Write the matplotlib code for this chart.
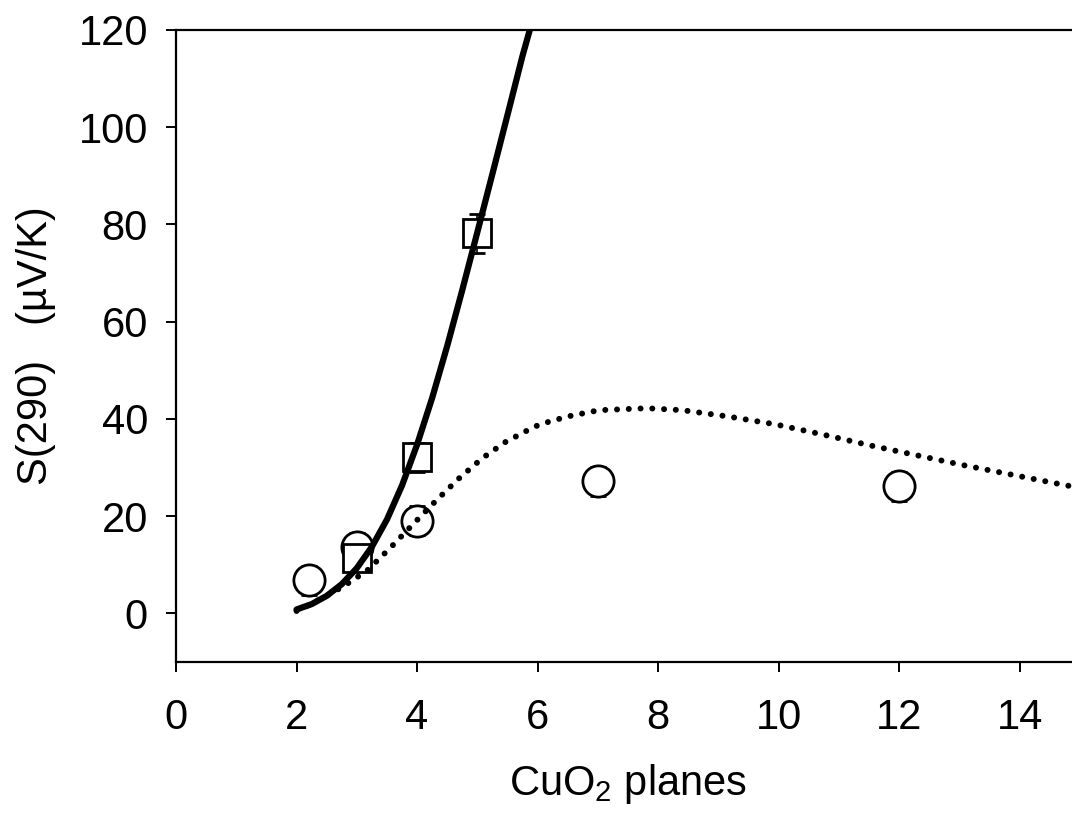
import matplotlib
matplotlib.use("Agg")
import matplotlib.pyplot as plt

plt.rcParams['font.family'] = ['Liberation Sans', 'DejaVu Sans']
plt.rcParams['mathtext.default'] = 'regular'

# Data
circle_x = [2.2, 3.0, 4.0, 7.0, 12.0]
circle_y = [6.8, 13.6, 19.1, 27.2, 26.1]
circle_err = [3.0, 3.0, 3.0, 3.0, 3.0]

square_x = [3.0, 4.0, 5.0]
square_y = [11.3, 32.1, 78.2]
square_err = [2.0, 3.0, 4.0]

solid_x = [2.0, 2.25, 2.5, 2.75, 3.0, 3.25, 3.5, 3.75, 4.0, 4.25, 4.5, 4.75,
           5.0, 5.25, 5.5, 5.75, 5.87]
solid_y = [0.8, 1.9, 3.6, 6.0, 9.3, 13.7, 19.3, 26.3, 34.7, 44.3, 55.0, 66.5,
           78.4, 90.4, 102.5, 114.7, 120.0]

dotted_x = [2.0, 2.39, 2.77, 3.17, 3.55, 3.93, 4.30, 4.68, 5.08, 5.46, 5.84, 6.04, 6.5,
            7.02, 7.82, 8.4, 9.16, 9.94, 10.73, 11.5, 12.3, 13.06, 13.84, 14.62, 15.0]
dotted_y = [0.5, 2.9, 5.5, 8.8, 13.4, 18.3, 23.0, 27.6, 31.9, 35.2, 37.7, 38.9, 40.5,
            41.8, 42.2, 41.8, 40.5, 38.9, 36.8, 34.6, 32.5, 30.5, 28.6, 26.7, 25.8]

x_ticks = [0, 2, 4, 6, 8, 10, 12, 14]
y_ticks = [0, 20, 40, 60, 80, 100, 120]

fig = plt.figure(figsize=(10.72, 8.17), dpi=100)
ax = fig.add_axes([176 / 1072, 155 / 817, (1080 - 176) / 1072, (662 - 30) / 817])

ax.errorbar(circle_x, circle_y, yerr=circle_err, fmt='o', ms=22.5, mfc='white', mec='black',
            mew=2.0, ecolor='black', elinewidth=1.2, capsize=5.5, capthick=1.2, zorder=2)
ax.errorbar(square_x, square_y, yerr=square_err, fmt='s', ms=19.5, mfc='white', mec='black',
            mew=2.0, ecolor='black', elinewidth=1.2, capsize=5.5, capthick=1.2, zorder=3)

ax.plot(solid_x, solid_y, color='black', lw=4.5, solid_capstyle='round',
        solid_joinstyle='round', zorder=4)
ax.plot(dotted_x, dotted_y, color='black', lw=4.3, linestyle=(0, (0.01, 1.96)),
        dash_capstyle='round', zorder=4)

ax.set_xlim(0, 15)
ax.set_ylim(-10, 120)
ax.set_xticks(x_ticks)
ax.set_yticks(y_ticks)

for s in ['left', 'bottom', 'top']:
    ax.spines[s].set_linewidth(1.6)
ax.spines['right'].set_visible(False)

ax.tick_params(axis='both', direction='out', length=7.2, width=1.4, labelsize=30)
ax.tick_params(axis='y', pad=13)
ax.tick_params(axis='x', pad=19)

ax.set_xlabel('CuO$_2$ planes', fontsize=30, labelpad=17)
ax.set_ylabel('S(290)   (\u00b5V/K)', fontsize=30, labelpad=16)

fig.savefig('out.png', dpi=100)
